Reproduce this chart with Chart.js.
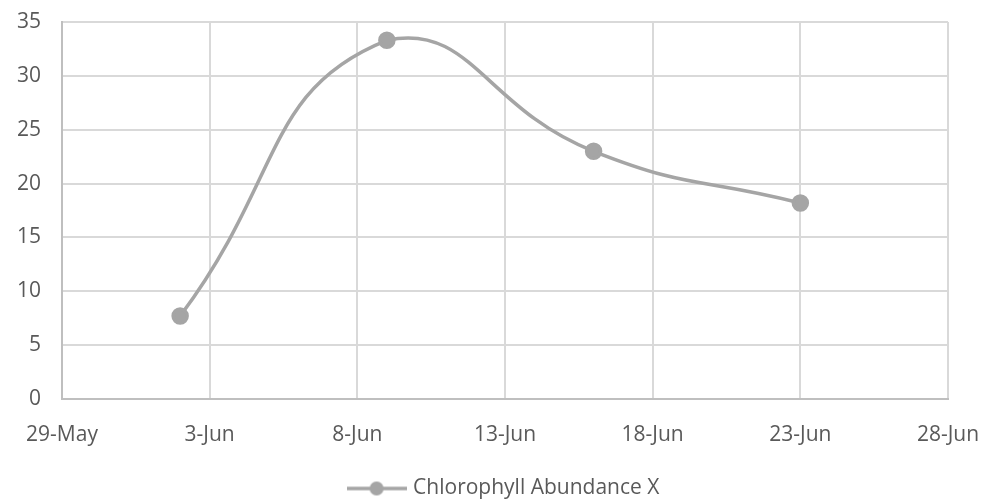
<!DOCTYPE html>
<html lang="en">
<head>
    <meta charset="UTF-8">
    <title>Chlorophyll Abundance</title>
    <script src="https://cdn.jsdelivr.net/npm/chart.js"></script>
    <style>
        body {
            margin: 0;
            background: #fff;
        }
        #wrap {
            width: 988px;
            height: 502px;
        }
    </style>
</head>
<body>
    <div id="wrap"><canvas id="chart"></canvas></div>

    <script>
        // days after 29-May for each sample, and the readings
        const sampleDays = [4, 11, 18, 25];
        const abundance = [7.7, 33.3, 23.0, 18.2];
        const seriesName = 'Chlorophyll Abundance X';
        // x tick labels, one every 5 days starting at 29-May
        const xTickLabels = ['29-May', '3-Jun', '8-Jun', '13-Jun', '18-Jun', '23-Jun', '28-Jun'];

        const lineColor = '#A5A5A5';
        const textColor = '#595959';
        const fontFamily = '"Open Sans", sans-serif';
        const fontSize = 21;

        // legend marker: short line with a dot in the middle
        const marker = document.createElement('canvas');
        marker.width = 60;
        marker.height = 16;
        const mctx = marker.getContext('2d');
        mctx.strokeStyle = lineColor;
        mctx.lineWidth = 3.5;
        mctx.beginPath();
        mctx.moveTo(0, 8);
        mctx.lineTo(60, 8);
        mctx.stroke();
        mctx.fillStyle = lineColor;
        mctx.beginPath();
        mctx.arc(30, 8, 7, 0, Math.PI * 2);
        mctx.fill();

        const ctx = document.getElementById('chart').getContext('2d');
        new Chart(ctx, {
            type: 'line',
            data: {
                datasets: [{
                    label: seriesName,
                    data: sampleDays.map((d, i) => ({ x: d, y: abundance[i] })),
                    borderColor: lineColor,
                    backgroundColor: lineColor,
                    borderWidth: 3.5,
                    pointRadius: 7,
                    pointHoverRadius: 7,
                    tension: 0.5,
                    fill: false
                }]
            },
            options: {
                responsive: true,
                maintainAspectRatio: false,
                animation: false,
                layout: {
                    padding: { left: 0, right: 40, top: 22, bottom: -7 }
                },
                plugins: {
                    tooltip: { enabled: false },
                    legend: {
                        position: 'bottom',
                        fullSize: false,
                        labels: {
                            color: textColor,
                            font: { family: fontFamily, size: fontSize },
                            usePointStyle: true,
                            pointStyleWidth: 52,
                            padding: 4,
                            generateLabels: chart => chart.data.datasets.map((ds, i) => ({
                                text: ds.label,
                                pointStyle: marker,
                                fontColor: textColor,
                                datasetIndex: i
                            }))
                        }
                    }
                },
                scales: {
                    x: {
                        type: 'linear',
                        min: 0,
                        max: 30,
                        border: { color: '#BFBFBF', width: 2 },
                        grid: { color: '#D9D9D9', lineWidth: 2, drawTicks: false },
                        ticks: {
                            stepSize: 5,
                            padding: 23,
                            color: textColor,
                            font: { family: fontFamily, size: fontSize },
                            maxRotation: 0,
                            callback: (v) => xTickLabels[v / 5]
                        },
                        afterFit: s => {
                            s.height = 75;
                            s.paddingLeft = 0;
                            s.paddingRight = 0;
                        }
                    },
                    y: {
                        min: 0,
                        max: 35,
                        border: { color: '#BFBFBF', width: 2 },
                        grid: { color: '#D9D9D9', lineWidth: 2, drawTicks: false },
                        ticks: {
                            stepSize: 5,
                            padding: 21,
                            color: textColor,
                            font: { family: fontFamily, size: fontSize }
                        },
                        afterFit: s => {
                            s.width = 62;
                            s.paddingTop = 0;
                            s.paddingBottom = 0;
                        }
                    }
                }
            }
        });
    </script>
</body>
</html>
